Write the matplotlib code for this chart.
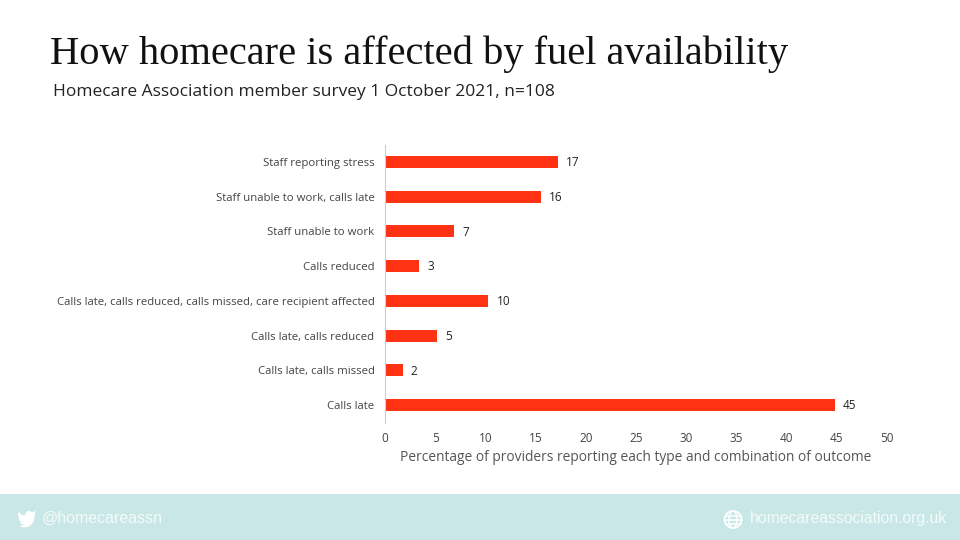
import matplotlib
matplotlib.use('Agg')
import matplotlib.pyplot as plt
from matplotlib.patches import Circle, Ellipse, PathPatch, Rectangle
from matplotlib.path import Path

categories = ['Calls late', 'Calls late, calls missed', 'Calls late, calls reduced',
              'Calls late, calls reduced, calls missed, care recipient affected',
              'Calls reduced', 'Staff unable to work', 'Staff unable to work, calls late',
              'Staff reporting stress']
values = [44.8, 1.75, 5.15, 10.3, 3.4, 6.9, 15.5, 17.2]
value_labels = ['45', '2', '5', '10', '3', '7', '16', '17']
x_ticks = [0, 5, 10, 15, 20, 25, 30, 35, 40, 45, 50]

W, H = 960, 540
BODY = 'Open Sans'
RED = '#ff3314'
TEAL = '#c8e7e6'

fig = plt.figure(figsize=(W / 100, H / 100), dpi=100, facecolor='white')

# whole-figure layer in pixel coordinates, y pointing down
bg = fig.add_axes([0, 0, 1, 1])
bg.set_xlim(0, W)
bg.set_ylim(H, 0)
bg.axis('off')

bg.text(50, 54, 'How homecare is affected by fuel availability', family='Liberation Serif',
        fontsize=29.2, color='#111111', va='center', ha='left')
bg.text(53, 92, 'Homecare Association member survey 1 October 2021, n=108', family=BODY,
        fontsize=12.5, color='#222222', va='center', ha='left')

# footer band
bg.add_patch(Rectangle((0, 494), W, 46, color=TEAL, lw=0))
bg.text(42, 518, '@homecareassn', family='Liberation Sans', fontsize=11.5, color='#f4fbfb', va='center')
bg.text(947, 519, 'homecareassociation.org.uk', family='Liberation Sans', fontsize=11.3,
        color='#f4fbfb', va='center', ha='right')

# twitter bird
bird = [(36, 511), (34, 511.5), (32, 512.5), (30, 511), (27.5, 511), (25.5, 513), (25.5, 515.5),
        (21.5, 515), (19, 512), (17.8, 514), (18.5, 517), (20, 518.5), (18.5, 518), (19.5, 521),
        (21.5, 522), (20, 522.5), (22, 524.5), (24, 524.5), (21, 526), (18, 526), (23, 527.5),
        (28, 527), (32, 524), (34, 520), (34.5, 516), (36, 514), (34.5, 514.5), (36, 511)]
bg.add_patch(PathPatch(Path(bird), facecolor='white', edgecolor='none'))

# globe
gx, gy = 733, 519.5
bg.add_patch(Circle((gx, gy), 8.5, fill=False, ec='white', lw=1.3))
bg.add_patch(Ellipse((gx, gy), 8, 17, fill=False, ec='white', lw=1.1))
bg.plot([gx - 8.5, gx + 8.5], [gy, gy], color='white', lw=1.1)
bg.plot([gx - 7.5, gx + 7.5], [gy - 4, gy - 4], color='white', lw=1.1)
bg.plot([gx - 7.5, gx + 7.5], [gy + 4, gy + 4], color='white', lw=1.1)

# bar chart, axes placed to the pixel positions of the reference
ax = fig.add_axes([385 / W, 1 - 422.5 / H, (887 - 385) / W, (422.5 - 144.5) / H])
ax.patch.set_alpha(0)
ypos = list(range(len(categories)))
ax.barh(ypos, values, height=0.35, color=RED)
for y, v, lab in zip(ypos, values, value_labels):
    ax.annotate(lab, (v, y), xytext=(6, -0.5), textcoords='offset points', family=BODY,
                fontsize=8.5, color='#222222', va='center', ha='left')

ax.set_xlim(0, 50)
ax.set_ylim(-0.5, 7.5)
ax.set_yticks(ypos)
ax.set_yticklabels(categories, family=BODY, fontsize=8.2, color='#444444')
ax.set_xticks(x_ticks)
ax.set_xticklabels(x_ticks, family=BODY, fontsize=8.5, color='#444444')
ax.tick_params(axis='both', length=0)
ax.tick_params(axis='y', pad=7.5)
ax.tick_params(axis='x', pad=6.5)
ax.set_xlabel('Percentage of providers reporting each type and combination of outcome',
              family=BODY, fontsize=9.9, color='#555555', labelpad=4)
for s in ['top', 'right', 'bottom']:
    ax.spines[s].set_visible(False)
ax.spines['left'].set_color('#cccccc')
ax.spines['left'].set_linewidth(0.8)

fig.savefig('out.png', dpi=100)
